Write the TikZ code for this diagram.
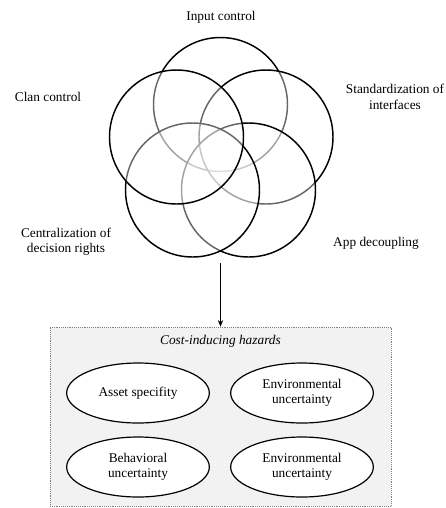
\documentclass[tikz,border=0pt]{standalone}
\usepackage{fontspec}
\setmainfont{Liberation Serif}
\usetikzlibrary{arrows.meta,shapes.geometric}

\begin{document}
\begin{tikzpicture}[x=0.75pt,y=-0.75pt,
    ring/.style={circle, draw=black, line width=1.1pt, fill=white, fill opacity=0.4, minimum size=100.5pt, inner sep=0pt},
    lbl/.style={align=center, font=\fontsize{10}{11.5}\selectfont},
    hazard/.style={ellipse, draw=black, line width=0.9pt, fill=white, minimum width=107pt, minimum height=45pt, inner sep=0pt, align=center, font=\fontsize{10}{11.5}\selectfont}]
    \useasboundingbox (0,0) rectangle (446,508);
    % five overlapping circles
    \node[ring] (input) at (220.5,104.5) {};
    \node[ring] (std) at (266,137) {};
    \node[ring] (app) at (248.5,190) {};
    \node[ring] (central) at (192.5,190) {};
    \node[ring] (clan) at (176.5,137) {};
    \node[lbl] (inputlbl) at (221,17) {Input control};
    \node[lbl] (clanlbl) at (48,97) {Clan control};
    \node[lbl] (stdlbl) at (395,97) {Standardization of\\interfaces};
    \node[lbl] (centrallbl) at (66,242) {Centralization of\\decision rights};
    \node[lbl] (applbl) at (376,243) {App decoupling};
    % hazards box
    \node[draw=gray, densely dotted, fill=gray!10, minimum width=255.75pt, minimum height=134.25pt, inner sep=0pt] (hazards) at (220.5,416.5) {};
    \node[lbl, font=\fontsize{10}{11.5}\selectfont\itshape] (hazlbl) at (220.5,341) {Cost-inducing hazards};
    \node[hazard] (asset) at (138,393) {Asset specifity};
    \node[hazard] (env1) at (302,393) {Environmental\\uncertainty};
    \node[hazard] (behav) at (138,467) {Behavioral\\uncertainty};
    \node[hazard] (env2) at (302,467) {Environmental\\uncertainty};
    \coordinate (src) at (220.5,263);
    \draw[-{Stealth[length=5pt,width=4pt]}, line width=0.7pt] (src) -- (hazards.north);
\end{tikzpicture}
\end{document}
